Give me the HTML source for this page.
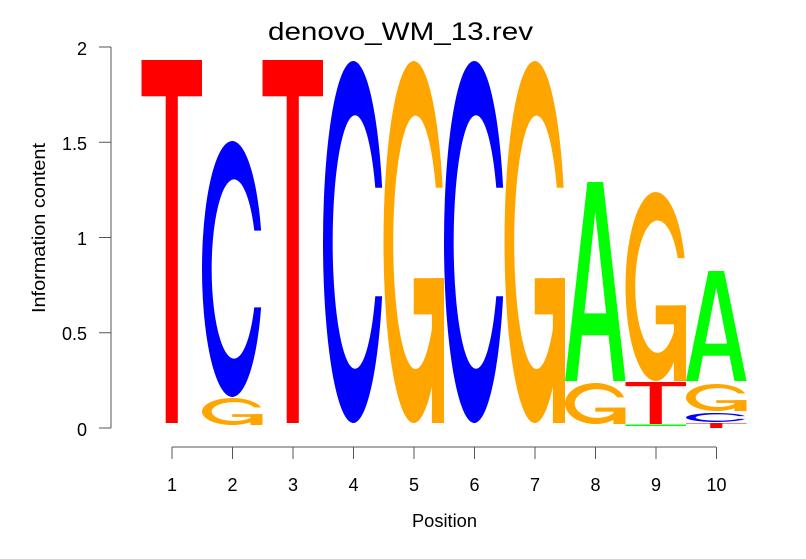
<!DOCTYPE html>
<html><head><meta charset="utf-8"><style>
html,body{margin:0;padding:0;background:#fff;}
svg{display:block;}
text{font-family:"Liberation Sans",sans-serif;fill:#000;}
</style></head><body>
<svg width="806" height="559" viewBox="0 0 806 559" xmlns="http://www.w3.org/2000/svg">
<defs>
<symbol id="T" viewBox="0 0 100 100" preserveAspectRatio="none">
<rect x="0" y="0" width="100" height="10"/><rect x="40" y="0" width="20" height="100"/>
</symbol>
<symbol id="C" viewBox="0 0 100 100" preserveAspectRatio="none">
<path d="M97.7,35 A50,50 0 1 0 97.7,65 L86.4,65 A37,35 0 1 1 86.4,35 Z"/>
</symbol>
<symbol id="G" viewBox="0 0 100 100" preserveAspectRatio="none">
<path d="M97.7,35 A50,50 0 1 0 99,60 L88.5,60 A37,35 0 1 1 86.4,35 Z"/>
<rect x="50" y="60" width="50" height="10"/><rect x="80" y="60" width="20" height="40"/>
</symbol>
<symbol id="A" viewBox="0 0 100 100" preserveAspectRatio="none">
<path fill-rule="evenodd" d="M0,100 L37,0 L63,0 L100,100 L80,100 L72,77 L28,77 L20,100 Z M32,66 L68,66 L50,15 Z"/>
</symbol>
</defs>

<text x="268" y="40" font-size="25" textLength="265" lengthAdjust="spacingAndGlyphs">denovo_WM_13.rev</text>

<g stroke="#555" stroke-width="1" fill="none">
<line x1="111" y1="47" x2="111" y2="428"/>
<line x1="99" y1="47" x2="111" y2="47"/>
<line x1="99" y1="142.25" x2="111" y2="142.25"/>
<line x1="99" y1="237.5" x2="111" y2="237.5"/>
<line x1="99" y1="332.75" x2="111" y2="332.75"/>
<line x1="99" y1="428" x2="111" y2="428"/>
<line x1="172" y1="447" x2="716" y2="447"/>
</g>
<g stroke="#555" stroke-width="1">
<line x1="172" y1="447" x2="172" y2="459"/><line x1="232.5" y1="447" x2="232.5" y2="459"/>
<line x1="293" y1="447" x2="293" y2="459"/><line x1="353.5" y1="447" x2="353.5" y2="459"/>
<line x1="414" y1="447" x2="414" y2="459"/><line x1="474.5" y1="447" x2="474.5" y2="459"/>
<line x1="535" y1="447" x2="535" y2="459"/><line x1="595.5" y1="447" x2="595.5" y2="459"/>
<line x1="656" y1="447" x2="656" y2="459"/><line x1="716.5" y1="447" x2="716.5" y2="459"/>
</g>
<g font-size="18" text-anchor="end">
<text x="87" y="55">2</text><text x="87" y="150">1.5</text><text x="87" y="245">1</text>
<text x="87" y="340">0.5</text><text x="87" y="436">0</text>
</g>
<g font-size="18" text-anchor="middle">
<text x="172" y="491">1</text><text x="232.5" y="491">2</text><text x="293" y="491">3</text>
<text x="353.5" y="491">4</text><text x="414" y="491">5</text><text x="474.5" y="491">6</text>
<text x="535" y="491">7</text><text x="595.5" y="491">8</text><text x="656" y="491">9</text>
<text x="716.5" y="491">10</text>
</g>
<text x="412" y="527" font-size="18.5" textLength="65" lengthAdjust="spacingAndGlyphs">Position</text>
<text transform="translate(45,313) rotate(-90)" font-size="18" textLength="170" lengthAdjust="spacingAndGlyphs">Information content</text>

<use href="#T" x="141.5" y="60" width="60.5" height="363" fill="#ff0000"/>
<use href="#C" x="202" y="141" width="60.5" height="256" fill="#0000ff"/>
<use href="#G" x="202" y="398" width="60.5" height="27" fill="#ffa500"/>
<use href="#T" x="262.5" y="60" width="60.5" height="363" fill="#ff0000"/>
<use href="#C" x="323" y="61" width="60.5" height="362" fill="#0000ff"/>
<use href="#G" x="383.5" y="61" width="60.5" height="362" fill="#ffa500"/>
<use href="#C" x="444" y="61" width="60.5" height="362" fill="#0000ff"/>
<use href="#G" x="504.5" y="61" width="60.5" height="362" fill="#ffa500"/>
<use href="#A" x="565" y="182" width="60.5" height="199" fill="#00ff00"/>
<use href="#G" x="565" y="383" width="60.5" height="41" fill="#ffa500"/>
<use href="#G" x="625.5" y="192" width="60.5" height="189" fill="#ffa500"/>
<use href="#T" x="625.5" y="382" width="60.5" height="42" fill="#ff0000"/>
<rect x="625.5" y="424.5" width="60.5" height="1.5" fill="#00ff00"/>
<use href="#A" x="686" y="271" width="60.5" height="110" fill="#00ff00"/>
<use href="#G" x="686" y="384" width="60.5" height="27" fill="#ffa500"/>
<use href="#C" x="686" y="413" width="60.5" height="9" fill="#0000ff"/>
<use href="#T" x="686" y="423" width="60.5" height="5" fill="#ff0000"/>
</svg>
</body></html>
